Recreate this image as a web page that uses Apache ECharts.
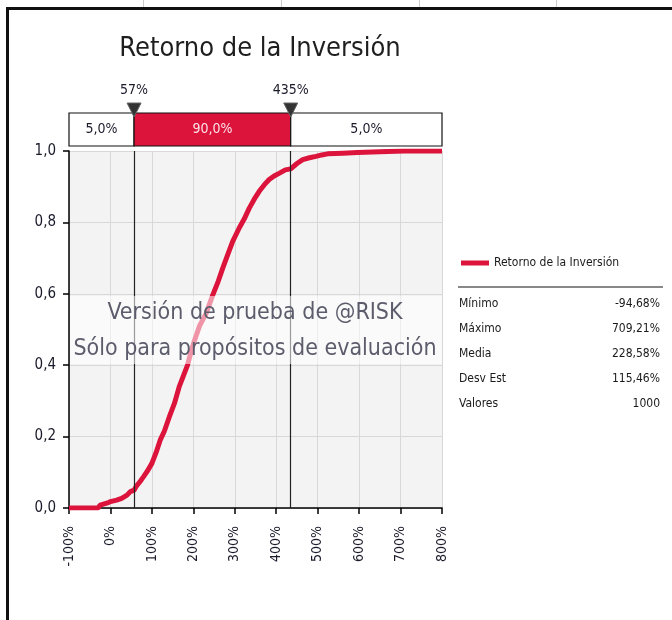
<!DOCTYPE html>
<html>
<head>
<meta charset="utf-8">
<script src="https://cdn.jsdelivr.net/npm/echarts@6/dist/echarts.min.js"></script>
<style>
html,body{margin:0;padding:0;background:#fff;}
#chart{width:672px;height:620px;}
</style>
</head>
<body>
<div id="chart"></div>
<script>
// ---- data ----
const returnValues = [-100, -30, -25, -5, 0, 15, 27, 40, 48, 57, 62, 72, 80, 90, 100, 110, 120, 130, 142, 155, 166, 176, 186, 195, 203, 215, 231, 247, 260, 271, 283, 295, 311, 323, 335, 347, 359, 371, 383, 395, 408, 422, 435, 450, 464, 480, 496, 510, 524, 560, 596, 650, 709, 800];
const cumulativeProb = [0, 0, 0.008, 0.015, 0.018, 0.022, 0.027, 0.036, 0.046, 0.05, 0.06, 0.075, 0.088, 0.105, 0.125, 0.155, 0.19, 0.215, 0.255, 0.295, 0.34, 0.37, 0.4, 0.44, 0.47, 0.51, 0.545, 0.597, 0.635, 0.672, 0.71, 0.747, 0.785, 0.81, 0.84, 0.865, 0.887, 0.905, 0.92, 0.93, 0.938, 0.947, 0.95, 0.965, 0.976, 0.981, 0.985, 0.989, 0.992, 0.994, 0.996, 0.998, 1.0, 1.0];
const percentileValues = [57, 435];
const percentileLabels = ['57%', '435%'];
const bandEdges = [-100, 57, 435, 800];
const bandShares = ['5,0%', '90,0%', '5,0%'];
const statLabels = ['Mínimo', 'Máximo', 'Media', 'Desv Est', 'Valores'];
const statValues = ['-94,68%', '709,21%', '228,58%', '115,46%', '1000'];
const seriesName = 'Retorno de la Inversión';
const chartTitle = 'Retorno de la Inversión';
const watermark = ['Versión de prueba de @RISK', 'Sólo para propósitos de evaluación'];

const RED = '#dc143c';
const FONT = '"DejaVu Sans Condensed", "DejaVu Sans", sans-serif';
const GL = 69, GT = 151, GW = 373, GH = 357;

const curve = returnValues.map((v, i) => [v, cumulativeProb[i]]);
const bands = bandShares.map((s, i) => [bandEdges[i], bandEdges[i + 1]]);
const markers = percentileValues.map(v => [v, 1]);

const chart = echarts.init(document.getElementById('chart'), null, {renderer: 'canvas'});

const stats = [];
statLabels.forEach((l, i) => {
  const y = 298 + i * 25;
  stats.push({type: 'text', left: 459, top: y, style: {text: l, font: '12px ' + FONT, fill: '#1a1a1a'}});
  stats.push({type: 'text', right: 12, top: y, style: {text: statValues[i], font: '12px ' + FONT, fill: '#1a1a1a', textAlign: 'right'}});
});

const option = {
  animation: false,
  backgroundColor: '#ffffff',
  title: {
    text: chartTitle, left: 255, top: 30, textAlign: 'center',
    textStyle: {fontFamily: FONT, fontSize: 27, fontWeight: 'normal', color: '#1e1e1e'}
  },
  legend: {
    data: [seriesName], left: 456, top: 252, icon: 'rect', itemWidth: 28, itemHeight: 5, itemGap: 8,
    textStyle: {fontFamily: FONT, fontSize: 12, color: '#1a1a1a'}
  },
  grid: [
    {left: GL, top: GT, width: GW, height: GH, show: true, backgroundColor: '#f3f3f3', borderWidth: 0},
    {left: GL, top: 113, width: GW, height: 33, show: false}
  ],
  xAxis: [
    {
      type: 'value', gridIndex: 0, min: -100, max: 800, interval: 100,
      axisLine: {show: true, onZero: false, lineStyle: {color: '#000', width: 1.5}},
      axisTick: {show: true, length: 6, lineStyle: {color: '#000', width: 1.5}},
      splitLine: {show: true, lineStyle: {color: '#d8d8d8', width: 1}},
      axisLabel: {rotate: 90, margin: 18, formatter: v => v + '%', fontFamily: FONT, fontSize: 14, color: '#1a1a2a'}
    },
    {type: 'value', gridIndex: 1, min: -100, max: 800, show: false}
  ],
  yAxis: [
    {
      type: 'value', gridIndex: 0, min: 0, max: 1, interval: 0.2,
      axisLine: {show: true, onZero: false, lineStyle: {color: '#000', width: 1.5}},
      axisTick: {show: true, length: 6, lineStyle: {color: '#000', width: 1.5}},
      splitLine: {show: true, lineStyle: {color: '#d8d8d8', width: 1}},
      axisLabel: {margin: 13, formatter: v => v.toFixed(1).replace('.', ','), fontFamily: FONT, fontSize: 15, color: '#1a1a2a'}
    },
    {type: 'value', gridIndex: 1, min: 0, max: 1, show: false}
  ],
  series: [
    {
      name: seriesName, type: 'line', xAxisIndex: 0, yAxisIndex: 0, data: curve,
      showSymbol: false, symbol: 'none', lineStyle: {color: RED, width: 5}, itemStyle: {color: RED},
      z: 3,
      markLine: {
        silent: true, symbol: 'none', label: {show: false},
        lineStyle: {color: '#222', width: 1.2, type: 'solid'},
        data: percentileValues.map(v => ({xAxis: v}))
      }
    },
    {
      type: 'custom', xAxisIndex: 1, yAxisIndex: 1, data: bands, clip: false, z: 5,
      renderItem: function (params, api) {
        const p0 = api.coord([api.value(0), 1]);
        const p1 = api.coord([api.value(1), 0]);
        const mid = params.dataIndex === 1;
        return {
          type: 'group',
          children: [
            {type: 'rect', shape: {x: p0[0], y: p0[1], width: p1[0] - p0[0], height: p1[1] - p0[1]},
             style: {fill: mid ? RED : '#fff', stroke: '#111', lineWidth: 1.2}},
            {type: 'text', x: (p0[0] + p1[0]) / 2, y: (p0[1] + p1[1]) / 2,
             style: {text: bandShares[params.dataIndex], textAlign: 'center', textVerticalAlign: 'middle',
                     font: '14px ' + FONT, fill: mid ? '#fbe3e8' : '#1a1a2a'}}
          ]
        };
      }
    },
    {
      type: 'custom', xAxisIndex: 1, yAxisIndex: 1, data: markers, clip: false, z: 6,
      renderItem: function (params, api) {
        const p = api.coord([api.value(0), api.value(1)]);
        return {
          type: 'group',
          children: [
            {type: 'polygon', shape: {points: [[p[0] - 7, p[1] - 10], [p[0] + 7, p[1] - 10], [p[0], p[1] + 4]]},
             style: {fill: '#333', stroke: '#666', lineWidth: 1}},
            {type: 'text', x: p[0], y: p[1] - 16,
             style: {text: percentileLabels[params.dataIndex], textAlign: 'center', textVerticalAlign: 'bottom',
                     font: '14px ' + FONT, fill: '#1a1a2a'}}
          ]
        };
      }
    }
  ],
  graphic: [
    // frame
    {type: 'line', shape: {x1: 6, y1: 8.5, x2: 672, y2: 8.5}, style: {stroke: '#111', lineWidth: 3}, z: 100},
    {type: 'line', shape: {x1: 7.5, y1: 7, x2: 7.5, y2: 620}, style: {stroke: '#111', lineWidth: 3}, z: 100},
    {type: 'line', shape: {x1: 143.5, y1: 0, x2: 143.5, y2: 7}, style: {stroke: '#ccc', lineWidth: 1}},
    {type: 'line', shape: {x1: 281.5, y1: 0, x2: 281.5, y2: 7}, style: {stroke: '#ccc', lineWidth: 1}},
    {type: 'line', shape: {x1: 419.5, y1: 0, x2: 419.5, y2: 7}, style: {stroke: '#ccc', lineWidth: 1}},
    {type: 'line', shape: {x1: 556.5, y1: 0, x2: 556.5, y2: 7}, style: {stroke: '#ccc', lineWidth: 1}},
    // watermark band
    {type: 'rect', shape: {x: GL + 1, y: 296, width: GW - 1, height: 68}, style: {fill: 'rgba(255,255,255,0.55)'}, z: 50},
    {type: 'text', x: 255, y: 313, style: {text: watermark[0], textAlign: 'center', textVerticalAlign: 'middle', font: '23px ' + FONT, fill: '#5c5c6c'}, z: 51},
    {type: 'text', x: 255, y: 349, style: {text: watermark[1], textAlign: 'center', textVerticalAlign: 'middle', font: '23px ' + FONT, fill: '#5c5c6c'}, z: 51},
    // legend rule
    {type: 'line', shape: {x1: 458, y1: 287, x2: 663, y2: 287}, style: {stroke: '#888', lineWidth: 2}},
    ...stats
  ]
};
chart.setOption(option);
</script>
</body>
</html>
